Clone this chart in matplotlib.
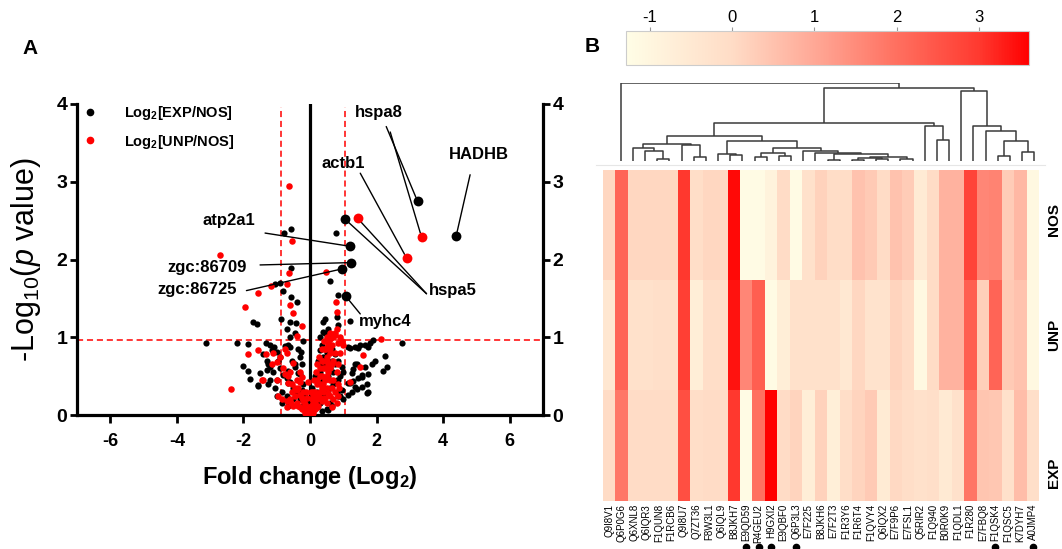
import numpy as np
import matplotlib
matplotlib.use("Agg")
import matplotlib.pyplot as plt
from matplotlib.colors import LinearSegmentedColormap
from matplotlib.lines import Line2D
from matplotlib.transforms import blended_transform_factory

plt.rcParams['font.family'] = ['Liberation Sans', 'DejaVu Sans']
plt.rcParams['mathtext.fontset'] = 'custom'
plt.rcParams['mathtext.rm'] = 'Liberation Sans'
plt.rcParams['mathtext.it'] = 'Liberation Sans:italic'
plt.rcParams['mathtext.bf'] = 'Liberation Sans:bold'
plt.rcParams['axes.unicode_minus'] = False

# ---------------- panel A data ----------------
exp_fc = [0.78, -0.57, -0.77, -0.57, -1.05, -0.90, -0.80, -0.57, -0.40, -0.86, -0.61, -1.70, -1.60, -0.42,
          0.60, 0.85, 0.45, 0.40, 0.80, 0.85, 1.20,
          -3.13, -2.20, -1.85, -1.33, -1.20, -1.08, -0.75, -0.65, -1.00, -0.28,
          -2.00, -1.85, -1.80, -1.55, -1.26, -0.90, -0.65, -0.25, -0.30,
          2.75, 1.90, 1.80, 1.65, 1.50, 1.35, 1.20, 2.25, 1.95, 1.85, 2.30, 2.20, 1.40, 1.30, 1.75, 1.55,
          1.45, 1.30, 1.20, 1.70, 1.55, 1.40, 1.25, 1.15, 1.70,
          0.10, 0.20, 0.30, -0.10, -0.20, -0.30, 0.40, 0.50, 0.60, 0.70, 0.80, 0.90, 1.00, 0.95, 0.85,
          0.75, 0.65, 0.55, 0.45, 0.35, 0.25, 0.15, 0.30, 0.45, 0.60, 0.70, 0.80, 0.90, 1.00, 0.60,
          0.50, 0.35, -0.40, -0.50, -0.60, -0.70, -0.80, -0.90, -1.00, -1.10, -1.20, -1.30, -1.40, -0.45,
          -0.55, -0.35, -0.20, -0.15, -0.50, -0.70, -0.85, -1.05, -1.25, -0.30, -0.60, -0.45, -0.70, -0.20,
          0.20, 0.10, -0.05, 0.05, 0.25, 0.40, 0.55, 0.65, 0.75, 0.55, 0.65, 0.50, 0.40, 0.30,
          -1.55, -1.50, -1.15, -0.95, -0.60, -0.45, -0.35, -0.25, -0.65, -1.00, -0.85, -0.65, -1.20, -1.30,
          0.40, 0.30, 0.30, 0.25, 1.15, 1.45, 1.75, 1.35, 1.65, 1.25, 1.55, 1.15, 1.35, 0.85, 0.95, 0.65,
          0.55, 1.75, 0.85]
exp_p = [2.34, 2.39, 2.34, 1.89, 1.69, 1.70, 1.59, 1.52, 1.45, 1.24, 1.20, 1.20, 1.17, 1.18,
         1.72, 1.54, 1.24, 1.19, 1.26, 1.16, 1.21,
         0.93, 0.93, 0.91, 0.93, 0.90, 0.87, 0.89, 0.90, 0.81, 0.81,
         0.63, 0.56, 0.46, 0.37, 0.65, 0.74, 0.57, 0.66, 0.53,
         0.93, 0.97, 0.92, 0.90, 0.90, 0.88, 0.86, 0.76, 0.70, 0.66, 0.62, 0.57, 0.65, 0.59, 0.53, 0.52,
         0.48, 0.44, 0.41, 0.40, 0.36, 0.33, 0.30, 0.26, 0.28,
         0.05, 0.10, 0.15, 0.08, 0.12, 0.20, 0.25, 0.30, 0.35, 0.40, 0.45, 0.50, 0.55, 0.62, 0.70,
         0.78, 0.85, 0.95, 1.05, 0.90, 0.70, 0.50, 0.55, 0.65, 0.60, 0.55, 0.30, 0.25, 0.20, 0.15,
         0.08, 0.05, 0.30, 0.35, 0.42, 0.48, 0.52, 0.60, 0.45, 0.55, 0.62, 0.70, 0.78, 0.62,
         0.70, 0.85, 0.40, 0.25, 0.20, 0.25, 0.30, 0.35, 0.40, 0.75, 1.00, 1.05, 1.10, 0.95,
         0.30, 0.20, 0.15, 0.35, 0.42, 0.45, 0.50, 0.70, 0.65, 1.10, 1.00, 0.80, 0.75, 1.00,
         0.39, 0.54, 0.84, 0.69, 0.88, 0.66, 0.54, 0.32, 0.41, 0.24, 0.15, 0.11, 0.45, 0.58,
         1.07, 0.84, 0.66, 0.54, 0.88, 0.86, 0.88, 0.66, 0.62, 0.54, 0.49, 0.41, 0.36, 0.24, 0.32, 0.11,
         0.06, 0.30, 0.45]

unp_fc = [-0.62, -0.53, -2.70, -0.62, -1.17, -1.55, -0.70, -1.95, -0.60, -0.50, -0.25, -0.40, -1.55, -1.85,
          -1.33, -0.75, -0.50, -1.00, -1.42, -1.00, -0.75, -2.37, -0.95, -0.65, -0.40, -0.25, -0.18, -0.56,
          0.48, 0.77, 0.80, 0.75, 2.13, 0.95, 0.65, 1.60, 1.50, 1.20, 0.88, 0.85,
          0.00, 0.05, -0.05, 0.10, -0.10, 0.15, -0.15, 0.20, -0.20, 0.25, -0.25, 0.30, -0.30, 0.35,
          0.40, 0.45, 0.50, 0.55, 0.60, 0.65, 0.70, 0.75, 0.60, 0.50, 0.40, 0.30, 0.20, 0.10, 0.05,
          0.15, 0.25, 0.35, 0.45, 0.55, 0.65, 0.70, 0.80, 0.85, 0.90, 1.00, 0.55, 0.45, 0.35, -0.35,
          -0.40, -0.30, -0.45, -0.55, -0.35, -0.25, -0.12, -0.05, 0.02, 0.08, 0.12, 0.18, 0.22, 0.28,
          0.35, 0.42, 0.50, 0.60, 0.70, 0.80, 0.50, 0.40, 0.30, 0.60, 0.75, 0.85, -0.60, -0.80, -0.90,
          -0.70, -0.85, -0.70, -1.10,
          0.10, 0.20, 0.15, 0.25, 0.30, 0.20, 0.35, 0.40, 0.30, 0.45, 0.40, 0.50, 0.55, 0.45, 0.55, 0.60,
          0.35, 0.50, 0.60, 0.70, 0.80, 0.65, -0.10, -0.20, -0.30, -0.40, -0.50, -0.60, -0.70, -0.45,
          -0.55, -0.65, -0.30, -0.20, -0.10, 0.00, 0.02, 0.05, -0.05, 0.10, -0.15, 0.60, 0.75, 0.90, 0.85,
          -1.15, -1.45]
unp_p = [2.95, 2.24, 2.06, 1.83, 1.66, 1.57, 1.69, 1.39, 1.42, 1.31, 1.15, 1.01, 0.84, 0.78,
         0.78, 0.85, 0.67, 0.68, 0.45, 0.45, 0.53, 0.34, 0.24, 0.41, 0.32, 0.49, 0.19, 0.15,
         1.84, 1.45, 1.33, 1.05, 0.98, 0.95, 0.90, 0.77, 0.62, 0.43, 0.35, 0.24,
         0.02, 0.05, 0.04, 0.10, 0.10, 0.15, 0.14, 0.20, 0.18, 0.25, 0.22, 0.30, 0.26, 0.35,
         0.40, 0.45, 0.50, 0.55, 0.60, 0.65, 0.70, 0.80, 0.85, 0.70, 0.60, 0.50, 0.40, 0.30, 0.20,
         0.08, 0.12, 0.18, 0.22, 0.28, 0.35, 0.45, 0.55, 0.65, 0.80, 0.90, 0.95, 0.85, 0.70, 0.35,
         0.45, 0.55, 0.25, 0.30, 0.12, 0.08, 0.30, 0.42, 0.12, 0.25, 0.45, 0.55, 0.65, 0.75,
         0.85, 0.95, 1.00, 1.05, 1.00, 1.10, 0.35, 0.30, 0.22, 0.45, 0.30, 0.40, 0.55, 0.60, 0.75,
         0.80, 0.20, 0.10, 0.80,
         0.15, 0.10, 0.30, 0.25, 0.40, 0.45, 0.50, 0.35, 0.60, 0.60, 0.70, 0.75, 0.65, 0.85, 0.90, 0.80,
         0.20, 0.15, 0.25, 0.20, 0.15, 0.10, 0.05, 0.08, 0.10, 0.15, 0.12, 0.20, 0.18, 0.35,
         0.40, 0.50, 0.42, 0.30, 0.22, 0.10, 0.30, 0.00, 0.00, 0.02, 0.02, 0.98, 1.03, 1.00, 0.92,
         0.66, 0.45]

# labelled proteins
gene_names = ['HADHB', 'hspa8', 'hspa8', 'actb1', 'hspa5', 'hspa5', 'atp2a1', 'zgc:86709', 'zgc:86725', 'myhc4']
gene_fc = [4.39, 3.23, 3.35, 2.90, 1.05, 1.43, 1.20, 1.23, 0.97, 1.07]
gene_p = [2.30, 2.75, 2.29, 2.02, 2.52, 2.53, 2.17, 1.96, 1.88, 1.53]
gene_set = ['EXP', 'EXP', 'UNP', 'UNP', 'EXP', 'UNP', 'EXP', 'EXP', 'EXP', 'EXP']
label_pos = {'HADHB': (5.08, 3.35), 'hspa8': (2.08, 3.89), 'actb1': (1.0, 3.24), 'hspa5': (4.3, 1.60),
             'atp2a1': (-2.45, 2.50), 'zgc:86709': (-3.1, 1.90), 'zgc:86725': (-3.38, 1.61), 'myhc4': (2.26, 1.20)}
line_from = [(4.81, 3.09), (2.29, 3.71), (2.41, 3.64), (1.51, 3.11), (3.5, 1.56), (3.5, 1.56),
             (-1.35, 2.34), (-1.5, 1.93), (-1.91, 1.60), (1.51, 1.30)]

p_cut = 0.96
fc_cut = [-0.87, 1.05]

# ---------------- panel B data ----------------
proteins = ['Q9I8V1', 'Q6P0G6', 'Q6XNL8', 'Q6IQR3', 'F1QUN8', 'F1RCB6', 'Q9I8U7', 'Q7ZT36', 'F8W3L1',
            'Q6IQL9', 'B8JKH7', 'E9QD59', 'R4GEU2', 'H9GXI2', 'E9QBF0', 'Q6P3L3', 'E7F225', 'B8JKH6',
            'E7F2T3', 'F1R3Y6', 'F1R6T4', 'F1QVY4', 'Q6IQX2', 'E7F9P6', 'E7FSL1', 'Q5RIR2', 'F1Q940',
            'B0R0K9', 'F1QDL1', 'F1R280', 'E7FBQ8', 'F1QSK4', 'F1QSC5', 'K7DYH7', 'A0JMP4']
marked = ['E9QD59', 'R4GEU2', 'H9GXI2', 'Q6P3L3', 'F1QSK4', 'A0JMP4']
groups = ['NOS', 'UNP', 'EXP']
nos = [0.1, 2.2, 0.1, 0.1, 0.1, 0.1, 3.0, -0.1, 0.1, 0.1, 3.5, -1.2, -1.2, -0.9, 0.0, -1.2, -0.2, 0.2,
       -0.05, -0.05, 0.5, 0.35, 0.0, 0.5, 0.3, -0.6, 0.0, 0.8, 0.8, 2.8, 1.6, 1.65, 0.3, 0.7, -1.1]
unp = [-0.45, 2.2, -0.2, -0.2, -0.15, -0.15, 2.9, -0.7, -0.1, -0.1, 3.4, 1.6, 2.3, -1.2, -0.7, -0.2,
       -0.2, -0.2, -0.2, -0.5, 0.1, -0.3, -0.3, 0.15, 0.0, -1.1, 0.0, 0.8, 0.8, 2.3, 0.25, 2.2, 0.35,
       0.5, -1.1]
exp = [0.0, 1.85, 0.0, 0.0, 0.0, 0.0, 2.6, -0.1, 0.0, 0.0, 3.0, -1.2, 2.0, 3.6, 0.0, 0.15, -0.7, 0.2,
       -0.75, -0.1, 0.15, 0.35, -0.6, 0.05, -0.1, -0.2, -0.15, -0.55, -0.2, 1.9, 0.45, 0.4, -0.2, 0.6,
       -0.15]
cbar_ticks = [-1, 0, 1, 2, 3]
vmin, vmax = -1.29, 3.61

# dendrogram merges: (node, left, right, height)
merges = [
    ('Q', 3, 4, 5), ('P', 2, 'Q', 30), ('N', 1, 'P', 38), ('R', 6, 7, 13), ('O', 5, 'R', 47),
    ('L', 'N', 'O', 51), ('U', 9, 10, 18), ('S', 8, 'U', 21), ('X', 11, 12, 13), ('Y', 13, 14, 16),
    ('V', 'X', 'Y', 25), ('BB', 17, 18, 3), ('D1', 19, 20, 4), ('D2', 21, 22, 6), ('DD', 'D1', 'D2', 9),
    ('EE', 23, 24, 5), ('CC', 'DD', 'EE', 13), ('AA', 'BB', 'CC', 22), ('Z', 16, 'AA', 25),
    ('W', 15, 'Z', 30), ('T', 'V', 'W', 40), ('M', 'S', 'T', 61), ('I', 'L', 'M', 75),
    ('K', 26, 27, 63), ('J', 25, 'K', 106), ('B', 'I', 'J', 113), ('G', 31, 32, 16), ('H', 33, 34, 26),
    ('F', 'G', 'H', 61), ('E', 30, 'F', 90), ('D', 29, 'E', 106), ('C', 28, 'D', 211),
    ('A', 'B', 'C', 220), ('root', 0, 'A', 233),
]

W, H = 1062, 549
fig = plt.figure(figsize=(W / 100, H / 100), dpi=100)


def box(l, t, r, b):
    return [l / W, 1 - b / H, (r - l) / W, (b - t) / H]


# ================= panel A =================
ax = fig.add_axes(box(77, 104, 543, 415))
ax.axhline(p_cut, color='red', ls=(0, (4, 2.5)), lw=1.1, zorder=1)
for c in fc_cut:
    ax.axvline(c, ymax=0.99, color='red', ls=(0, (4, 2.5)), lw=1.1, zorder=1)
ax.axvline(0, color='black', lw=2.3, zorder=1)
ax.scatter(exp_fc, exp_p, s=20, color='black', lw=0, zorder=2)
ax.scatter(unp_fc, unp_p, s=22, color='red', lw=0, zorder=3)
for fc, p, g in zip(gene_fc, gene_p, gene_set):
    ax.scatter(fc, p, s=50, color='black' if g == 'EXP' else 'red', lw=0, zorder=4)

for name, (tx, ty) in label_pos.items():
    ax.text(tx, ty, name, ha='center', va='center', fontsize=12, fontweight='bold')
for start, fc, p in zip(line_from, gene_fc, gene_p):
    ax.annotate('', xy=(fc, p), xytext=start,
                arrowprops=dict(arrowstyle='-', color='black', lw=1.0, shrinkA=0, shrinkB=3))

ax.set_xlim(-7, 7)
ax.set_ylim(0, 4)
ax.set_xticks([-6, -4, -2, 0, 2, 4, 6])
ax.set_yticks([0, 1, 2, 3, 4])
ax.spines['top'].set_visible(False)
for s in ['left', 'right', 'bottom']:
    ax.spines[s].set_linewidth(2.3)
ax.tick_params(axis='x', length=6, width=2, pad=7, labelsize=13)
ax.tick_params(axis='y', length=5, width=2, pad=2, labelsize=14, right=True, labelright=True)
for t in ax.get_xticklabels() + ax.get_yticklabels():
    t.set_fontweight('bold')
ax.set_xlabel(r'Fold change (Log$_\mathbf{2}$)', fontsize=17, fontweight='bold', labelpad=10)
ax.set_ylabel(r'-Log$_{10}$($\it{p}$ value)', fontsize=22, labelpad=10)

handles = [Line2D([], [], ls='none', marker='o', ms=4.5, color='black'),
           Line2D([], [], ls='none', marker='o', ms=4.5, color='red')]
ax.legend(handles, [r'Log$_\mathbf{2}$[EXP/NOS]', r'Log$_\mathbf{2}$[UNP/NOS]'],
          loc='upper left', bbox_to_anchor=(0.0, 1.02), frameon=False, borderaxespad=0,
          handlelength=1.0, handletextpad=1.8, labelspacing=0.75,
          prop={'size': 10.5, 'weight': 'bold'})

fig.text(30 / W, 1 - 48 / H, 'A', fontsize=15, fontweight='bold', ha='center', va='center')
fig.text(592 / W, 1 - 47 / H, 'B', fontsize=15, fontweight='bold', ha='center', va='center')

# ================= panel B =================
cmap = LinearSegmentedColormap.from_list('cream_red', [
    (0.0, '#fffde6'), ((0 - vmin) / (vmax - vmin), '#ffdcc6'), ((1 - vmin) / (vmax - vmin), '#ffa896'),
    ((2 - vmin) / (vmax - vmin), '#ff7060'), ((3 - vmin) / (vmax - vmin), '#ff3a30'), (1.0, '#ff0000')])

hm = fig.add_axes(box(603, 170, 1039, 501))
data = np.array([nos, unp, exp])
im = hm.imshow(data, cmap=cmap, vmin=vmin, vmax=vmax, aspect='auto', interpolation='nearest')
hm.set_xticks(range(len(proteins)))
hm.set_xticklabels(proteins, rotation=90, fontsize=7)
hm.set_yticks([])
hm.tick_params(axis='x', length=0, pad=2)
for s in hm.spines.values():
    s.set_visible(False)
trans = blended_transform_factory(hm.transData, hm.transAxes)
for p in marked:
    hm.plot(proteins.index(p), -0.139, 'o', ms=4.5, color='black', transform=trans, clip_on=False)

for g, yc in zip(groups, [220, 335, 473]):
    fig.text(1061 / W, 1 - yc / H, g, rotation=90, ha='right', va='center', fontsize=11, fontweight='bold')

# colour bar
cax = fig.add_axes(box(626, 31, 1029, 65))
cb = fig.colorbar(im, cax=cax, orientation='horizontal', ticks=cbar_ticks)
cax.xaxis.set_ticks_position('top')
cax.tick_params(length=3, width=0.8, color='#999999', labelsize=12, pad=1)
cb.outline.set_edgecolor('#cccccc')
cb.outline.set_linewidth(0.8)

# dendrogram
dax = fig.add_axes(box(614.6, 83.3, 1040.4, 161))
pos = {}
hgt = {}
for i in range(len(proteins)):
    pos[i] = i
    hgt[i] = 0
for node, a, b, h in merges:
    xa, xb = pos[a], pos[b]
    dax.plot([xa, xa, xb, xb], [hgt[a], h, h, hgt[b]], color='#3a3a3a', lw=1.1, solid_capstyle='butt')
    pos[node] = (xa + xb) / 2
    hgt[node] = h
dax.set_xlim(-0.5, len(proteins) - 0.5)
dax.set_ylim(0, 233)
dax.axis('off')

fig.add_artist(Line2D([596 / W, 1045 / W], [1 - 165 / H] * 2, color='#e6e6e6', lw=0.8))

fig.savefig('out.png', dpi=100)
